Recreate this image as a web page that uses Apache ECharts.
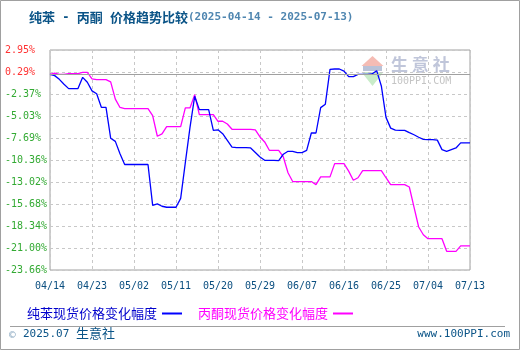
<!DOCTYPE html>
<html><head><meta charset="utf-8">
<script src="https://cdn.jsdelivr.net/npm/echarts@6/dist/echarts.min.js"></script>
<style>html,body{margin:0;padding:0;background:#fff}#c{width:520px;height:350px}</style>
</head><body><div id="c"></div>
<script>
const dates = [
'04/14','04/15','04/16','04/17','04/18','04/19','04/20','04/21','04/22','04/23','04/24','04/25','04/26','04/27','04/28','04/29','04/30',
'05/01','05/02','05/03','05/04','05/05','05/06','05/07','05/08','05/09','05/10','05/11','05/12','05/13','05/14','05/15','05/16','05/17','05/18','05/19','05/20','05/21','05/22','05/23','05/24','05/25','05/26','05/27','05/28','05/29','05/30','05/31',
'06/01','06/02','06/03','06/04','06/05','06/06','06/07','06/08','06/09','06/10','06/11','06/12','06/13','06/14','06/15','06/16','06/17','06/18','06/19','06/20','06/21','06/22','06/23','06/24','06/25','06/26','06/27','06/28','06/29','06/30',
'07/01','07/02','07/03','07/04','07/05','07/06','07/07','07/08','07/09','07/10','07/11','07/12','07/13'];
const benzene = [
0,-0.15,-0.6,-1.2,-1.72,-1.72,-1.72,-0.36,-0.95,-2.0,
-2.34,-3.98,-3.98,-7.72,-8.1,-9.6,-10.9,-10.9,-10.9,-10.9,
-10.9,-10.9,-15.85,-15.67,-15.95,-16.07,-16.07,-16.07,-15.0,-10.67,
-6.4,-2.65,-4.26,-4.26,-4.26,-6.77,-6.7,-7.17,-7.97,-8.8,
-8.86,-8.86,-8.86,-8.9,-9.45,-10.0,-10.39,-10.4,-10.41,-10.42,
-9.66,-9.3,-9.3,-9.46,-9.46,-9.2,-7.09,-7.09,-4.02,-3.6,
0.6,0.65,0.65,0.4,-0.27,-0.27,0.0,0.0,0.0,0.05,
0.45,-1.4,-5.2,-6.5,-6.75,-6.77,-6.77,-7.05,-7.3,-7.6,
-7.85,-7.88,-7.88,-7.95,-9.1,-9.3,-9.1,-8.9,-8.29,-8.29,
-8.29];
const acetone = [
0,0.15,0.0,0.0,0.1,0.1,0.1,0.25,0.25,-0.55,
-0.63,-0.63,-0.63,-0.9,-3.0,-4.0,-4.14,-4.14,-4.14,-4.14,
-4.14,-4.14,-5.0,-7.48,-7.2,-6.31,-6.31,-6.31,-6.31,-4.06,
-4.06,-2.45,-4.87,-4.87,-4.87,-4.87,-5.67,-5.67,-6.0,-6.64,
-6.64,-6.64,-6.64,-6.64,-6.7,-7.57,-8.17,-9.18,-9.18,-9.18,
-9.99,-11.9,-12.96,-12.96,-12.96,-12.96,-12.96,-13.33,-12.4,-12.4,
-12.4,-10.79,-10.79,-10.79,-11.7,-12.8,-12.5,-11.63,-11.63,-11.63,
-11.63,-11.63,-12.5,-13.33,-13.33,-13.33,-13.33,-13.62,-16.05,-18.46,
-19.4,-19.87,-19.87,-19.87,-19.87,-21.4,-21.4,-21.4,-20.75,-20.75,
-20.75];
const yTickLabels = ['-23.66%','-21.00%','-18.34%','-15.68%','-13.02%','-10.36%','-7.69%','-5.03%','-2.37%','0.29%','2.95%'];
const yMin = -23.66, yMax = 2.95, yStep = 2.661;
const seriesNames = ['纯苯现货价格变化幅度','丙酮现货价格变化幅度'];

const chart = echarts.init(document.getElementById('c'), null, {renderer:'canvas'});
const mono = '"DejaVu Sans Mono", "Liberation Mono", monospace';
const cjk = '"Noto Sans CJK SC", sans-serif';
chart.setOption({
  animation:false,
  backgroundColor:'#fff',
  title:{
    left:24, top:6,
    text:'{a|纯苯}{s| - }{a|丙酮}{s| }{a|价格趋势比较}{b|(2025-04-14 - 2025-07-13)}',
    textStyle:{rich:{
      a:{fontFamily:cjk,fontSize:13,color:'#0b5487'},
      s:{fontFamily:mono,fontSize:12,color:'#0b5487'},
      b:{fontFamily:mono,fontSize:11,color:'#4f86b0'}
    }}
  },
  legend:{
    left:22, top:302, align:'right', itemGap:16, itemWidth:20, itemHeight:2, icon:'rect',
    textStyle:{fontFamily:cjk,fontSize:13},
    data:[
      {name:seriesNames[0], textStyle:{color:'#0000cc'}},
      {name:seriesNames[1], textStyle:{color:'#ff00ff'}}
    ]
  },
  grid:{left:50,right:50,top:50,bottom:80,show:true,borderColor:'#a0a0a0',borderWidth:1,backgroundColor:'transparent'},
  xAxis:{
    type:'category', data:dates, boundaryGap:false,
    axisLine:{show:false}, axisTick:{show:false},
    axisLabel:{interval:8, margin:11, fontFamily:mono, fontSize:10, color:'#0b4f80', showMaxLabel:true},
    splitLine:{show:true, interval:8, lineStyle:{color:'#c8c8c8', type:[3,3]}}
  },
  yAxis:{
    type:'value', min:yMin, max:yMax, interval:yStep,
    axisLine:{show:false}, axisTick:{show:false},
    axisLabel:{
      align:'left', margin:45, fontFamily:mono, fontSize:10, padding:[0,0,4,0],
      formatter:function(v){ return yTickLabels[Math.round((v-yMin)/yStep)]; },
      color:function(v){ return v > 0 ? '#ff3333' : '#33aa33'; }
    },
    splitLine:{show:true, lineStyle:{color:'#c8c8c8', type:[3,3]}}
  },
  graphic:[
    {type:'rect', shape:{x:0.5,y:0.5,width:519,height:349}, style:{fill:'none',stroke:'#a0a0a0',lineWidth:1}, z:-10},
    {type:'line', shape:{x1:10,y1:326.5,x2:505,y2:326.5}, style:{stroke:'#a0a0a0',lineWidth:1}},
    {type:'text', left:9, top:330, style:{text:'©', font:'11px '+mono, fill:'#8aa8c0'}},
    {type:'text', left:23, top:329, style:{text:'2025.07', font:'11px '+mono, fill:'#0b5487'}},
    {type:'text', left:76, top:327, style:{text:'生意社', font:'13px '+cjk, fill:'#0b5487'}},
    {type:'text', right:10, top:329, style:{text:'www.100PPI.com', font:'11px '+mono, fill:'#0b5487'}},
    {type:'polygon', z:-1, shape:{points:[[372.5,56],[361.5,66],[383.5,66]]}, style:{fill:'#f5bcb4'}},
    {type:'rect', z:-1, shape:{x:363,y:66,width:19,height:5}, style:{fill:'#b9c2d8'}},
    {type:'polygon', z:-1, shape:{points:[[361.5,72],[383.5,72],[372.5,86]]}, style:{fill:'#c9ecc9'}},
    {type:'text', z:-1, left:391, top:56, style:{text:'生 意 社', font:'bold 17px '+cjk, fill:'#c0c6da'}},
    {type:'text', z:-1, left:391, top:76, style:{text:'100PPI.COM', font:'10px '+mono, fill:'#c4c4c4'}}
  ],
  series:[
    {name:seriesNames[0], type:'line', data:benzene, showSymbol:false, symbol:'none', lineStyle:{color:'#0000ff',width:1.3}, itemStyle:{color:'#0000ff'}, z:3,
     markLine:{silent:true, symbol:'none', label:{show:false}, lineStyle:{color:'#a0a0a0',type:'solid',width:1}, data:[{yAxis:0}]}},
    {name:seriesNames[1], type:'line', data:acetone, showSymbol:false, symbol:'none', lineStyle:{color:'#ff00ff',width:1.3}, itemStyle:{color:'#ff00ff'}, z:2}
  ]
});
</script></body></html>
